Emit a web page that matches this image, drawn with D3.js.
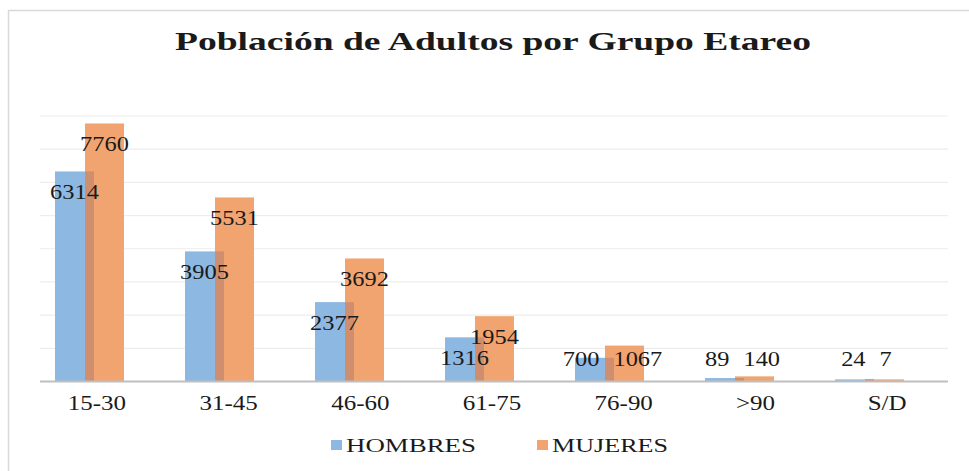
<!DOCTYPE html>
<html>
<head>
<meta charset="utf-8">
<script src="https://cdn.jsdelivr.net/npm/d3@7/dist/d3.min.js"></script>
<style>
  body { margin: 0; background: #fff; }
  text { font-family: "Liberation Serif", "DejaVu Serif", serif; fill: #1a1a1a; }
</style>
</head>
<body>
<svg id="chart" width="969" height="471"></svg>
<script>
// data
var categories = ["15-30", "31-45", "46-60", "61-75", "76-90", ">90", "S/D"];
var series = ["HOMBRES", "MUJERES"];
var hombres = [6314, 3905, 2377, 1316, 700, 89, 24];
var mujeres = [7760, 5531, 3692, 1954, 1067, 140, 7];
var gridTicks = [1000, 2000, 3000, 4000, 5000, 6000, 7000, 8000];

var colors = {HOMBRES: "#8db8e1", MUJERES: "#f1a46f"};
var overlapColor = "#cf8f6e";
var stretch = 1.22;
var labelFloor = 366;   // lowest baseline for value labels
var labelGap = 14;      // min gap between two labels of a group
var minBarH = 1.6;      // tiny values still show as a thin strip

var svg = d3.select("#chart");

// frame
svg.append("rect")
    .attr("x", 8.5).attr("y", 10.5)
    .attr("width", 970).attr("height", 480)
    .attr("fill", "none")
    .attr("stroke", "#d9d9d9")
    .attr("stroke-width", 1.5);

// title
svg.append("text")
    .attr("x", 175).attr("y", 50)
    .attr("textLength", 636)
    .attr("lengthAdjust", "spacingAndGlyphs")
    .style("font-size", "25px")
    .style("font-weight", "bold")
    .text("Población de Adultos por Grupo Etareo");

// scales
var plotLeft = 40, plotRight = 948;
var y = d3.scaleLinear().domain([0, 8000]).range([381, 115.5]);
var xBars = d3.scaleBand().domain(categories).range([24, 934]);
var xSeries = d3.scaleBand().domain(series).range([31, 91]);
var xLabels = d3.scaleBand().domain(categories).range([31, 953]);
var barW = xSeries.bandwidth() * 1.3;

var barH = function (v) { return Math.max(y(0) - y(v), minBarH); };

// gridlines
svg.append("g").selectAll("line")
    .data(gridTicks)
    .join("line")
    .attr("x1", plotLeft).attr("x2", plotRight)
    .attr("y1", function (d) { return y(d) + 0.5; })
    .attr("y2", function (d) { return y(d) + 0.5; })
    .attr("stroke", "#ededed")
    .attr("stroke-width", 1.2);

var rows = categories.map(function (c, i) {
    return {cat: c, HOMBRES: hombres[i], MUJERES: mujeres[i]};
});

// bars
var groups = svg.append("g").selectAll("g")
    .data(rows)
    .join("g")
    .attr("transform", function (d) { return "translate(" + xBars(d.cat) + ",0)"; });

series.forEach(function (s) {
    groups.append("rect")
        .attr("x", xSeries(s))
        .attr("y", function (d) { return y(0) - barH(d[s]); })
        .attr("width", barW)
        .attr("height", function (d) { return barH(d[s]); })
        .attr("fill", colors[s]);
});

// darker strip where the two bars overlap
groups.append("rect")
    .attr("x", xSeries("MUJERES"))
    .attr("y", function (d) { return y(0) - barH(Math.min(d.HOMBRES, d.MUJERES)); })
    .attr("width", xSeries("HOMBRES") + barW - xSeries("MUJERES"))
    .attr("height", function (d) { return barH(Math.min(d.HOMBRES, d.MUJERES)); })
    .attr("fill", overlapColor);

// value labels, inside the bar end, kept above a floor
groups.each(function (d) {
    var g = d3.select(this);
    var labels = series.map(function (s) {
        var lg = g.append("g");
        var t = lg.append("text")
            .attr("text-anchor", "middle")
            .attr("transform", "scale(" + stretch + ",1)")
            .style("font-size", "20px")
            .text(d[s]);
        return {
            g: lg,
            cx: xSeries(s) + barW / 2,
            cy: Math.min(y(d[s]) + 28, labelFloor),
            half: t.node().getComputedTextLength() * stretch / 2
        };
    });
    var a = labels[0], b = labels[1];
    // push apart labels sitting on the same line when they collide
    if (Math.abs(a.cy - b.cy) < 16) {
        var need = a.half + b.half + labelGap;
        var dist = b.cx - a.cx;
        if (dist < need) {
            var shift = (need - dist) / 2;
            a.cx -= shift;
            b.cx += shift;
        }
    }
    labels.forEach(function (l) {
        l.g.attr("transform", "translate(" + l.cx + "," + l.cy + ")");
    });
});

// baseline
svg.append("line")
    .attr("x1", plotLeft).attr("x2", plotRight)
    .attr("y1", y(0) + 0.5).attr("y2", y(0) + 0.5)
    .attr("stroke", "#bfbfbf")
    .attr("stroke-width", 2);

// category axis
var xAxis = svg.append("g")
    .attr("transform", "translate(0," + 392 + ")")
    .call(d3.axisBottom(xLabels).tickSize(0).tickPadding(0));
xAxis.select(".domain").remove();
xAxis.selectAll(".tick text")
    .attr("x", 0)
    .attr("y", 18).attr("dy", null)
    .attr("transform", "scale(1.25,1)")
    .style("font-size", "20px")
    .style("font-family", "Liberation Serif, serif")
    .attr("fill", "#1a1a1a");

// legend
var legendItems = [
    {name: "HOMBRES", x: 331, w: 130},
    {name: "MUJERES", x: 537, w: 116}
];
var legend = svg.append("g").selectAll("g")
    .data(legendItems)
    .join("g")
    .attr("transform", function (d) { return "translate(" + d.x + ",440)"; });
legend.append("rect")
    .attr("width", 11).attr("height", 10)
    .attr("fill", function (d) { return colors[d.name]; });
legend.append("text")
    .attr("x", 15).attr("y", 12)
    .attr("textLength", function (d) { return d.w; })
    .attr("lengthAdjust", "spacingAndGlyphs")
    .style("font-size", "19px")
    .text(function (d) { return d.name; });
</script>
</body>
</html>
